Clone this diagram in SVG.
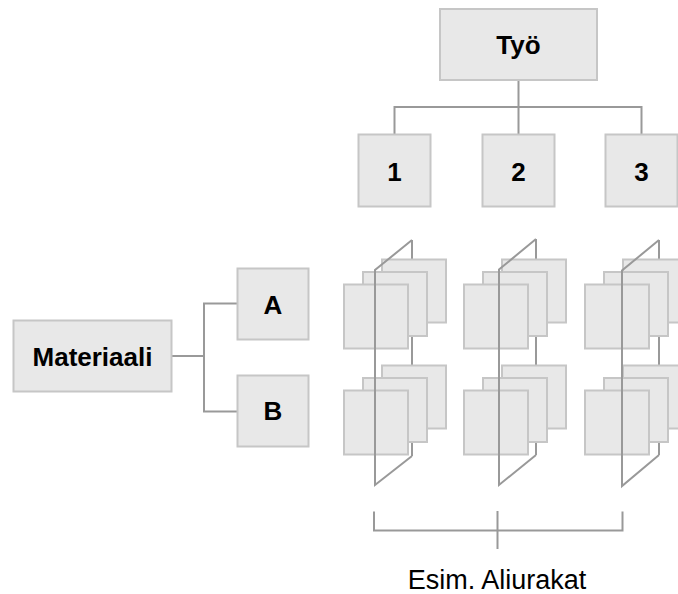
<svg xmlns="http://www.w3.org/2000/svg" xmlns:xlink="http://www.w3.org/1999/xlink" width="678" height="594" viewBox="0 0 678 594">
<style>
.box{fill:#e8e8e8;stroke:#c6c6c6;stroke-width:2}
.ln{fill:none;stroke:#999;stroke-width:2}
.lbl{font-family:"Liberation Sans",Arial,sans-serif;font-weight:bold;font-size:26px;fill:#000;text-anchor:middle}
.cap{font-family:"Liberation Sans",Arial,sans-serif;font-size:27px;fill:#000;text-anchor:middle}
</style>
<defs>
<g id="stack">
<rect class="box" x="38" y="0" width="64" height="63"/>
<rect class="box" x="19" y="12.5" width="64" height="64"/>
<rect class="box" x="0" y="25" width="64" height="64"/>
</g>
</defs>
<rect width="678" height="594" fill="#fff"/>
<g id="connectors">
<path class="ln" d="M518.5 80V107M394.5 134V107H641.5V134M518.5 107V134"/>
<path class="ln" d="M172 356H204M237 303.5H204V411.5H237"/>
<path class="ln" d="M374 511.5V530.5H622.5V511.5M497.5 511V549"/>
</g>
<g id="tyo"><rect class="box" x="440" y="9" width="157" height="71"/><text class="lbl" x="518.5" y="54">Työ</text></g>
<g id="n1"><rect class="box" x="358.5" y="134.5" width="72" height="72"/><text class="lbl" x="394.5" y="181">1</text></g>
<g id="n2"><rect class="box" x="482.5" y="134.5" width="72" height="72"/><text class="lbl" x="518.5" y="181">2</text></g>
<g id="n3"><rect class="box" x="605.5" y="134.5" width="72" height="72"/><text class="lbl" x="641.5" y="181">3</text></g>
<g id="materiaali"><rect class="box" x="13.5" y="320.5" width="158" height="71"/><text class="lbl" x="92.5" y="366">Materiaali</text></g>
<g id="a"><rect class="box" x="237.5" y="268.5" width="71" height="71"/><text class="lbl" x="273" y="314">A</text></g>
<g id="b"><rect class="box" x="237.5" y="375.5" width="71" height="71"/><text class="lbl" x="273" y="420">B</text></g>
<g id="col1">
<line class="ln" x1="412" y1="240" x2="412" y2="456"/>
<use xlink:href="#stack" x="344" y="259.5"/>
<use xlink:href="#stack" x="344" y="365.5"/>
<polyline class="ln" points="412,240 375,270 375,485 412,456"/>
</g>
<g id="col2">
<line class="ln" x1="536" y1="239" x2="536" y2="455"/>
<use xlink:href="#stack" x="464" y="259.5"/>
<use xlink:href="#stack" x="464" y="365.5"/>
<polyline class="ln" points="536,239 499,269.5 499,485 536,455"/>
</g>
<g id="col3">
<line class="ln" x1="659" y1="240" x2="659" y2="455"/>
<use xlink:href="#stack" x="585" y="259.5"/>
<use xlink:href="#stack" x="585" y="365.5"/>
<polyline class="ln" points="659,240 622,270.5 622,486 659,455"/>
</g>
<text class="cap" x="497" y="589">Esim. Aliurakat</text>
</svg>
